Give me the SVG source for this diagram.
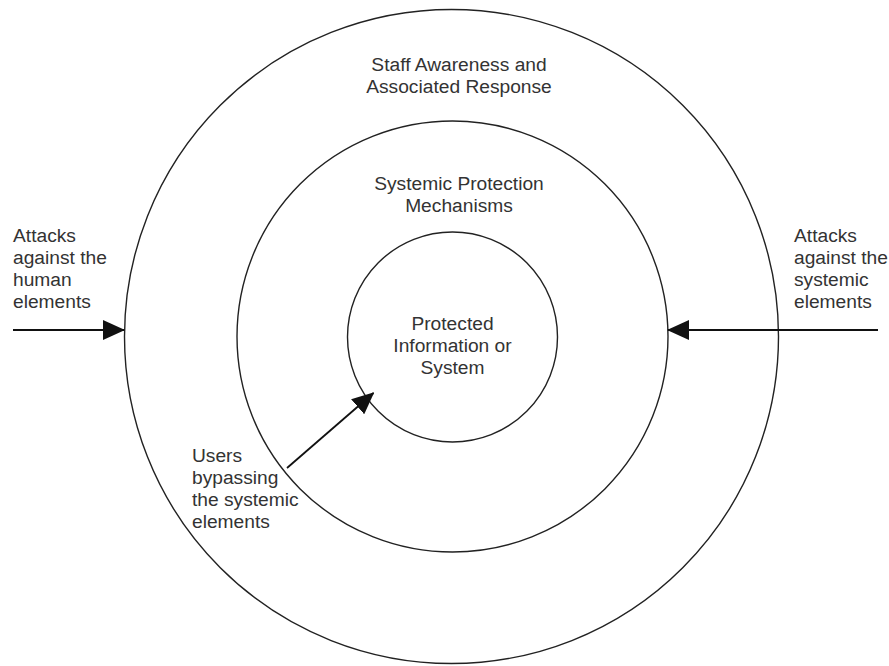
<svg xmlns="http://www.w3.org/2000/svg" width="889" height="666" viewBox="0 0 889 666">
<style>
.ring{fill:none;stroke:#222;stroke-width:1.4}
.lbl{font-family:"Liberation Sans",Arial,sans-serif;font-size:19.2px;fill:#333}
.c{text-anchor:middle}
.arr{fill:none;stroke:#111;stroke-width:1.8}
</style>
<defs>
<marker id="ah" viewBox="0 0 22 20" refX="21" refY="10" markerWidth="22" markerHeight="20" markerUnits="userSpaceOnUse" orient="auto">
<path d="M0,0 L22,10 L0,20 Z" fill="#111"/>
</marker>
</defs>
<rect width="889" height="666" fill="#fff"/>
<g id="outer">
<circle class="ring" cx="451.5" cy="336.5" r="327"/>
<text class="lbl c" x="459" y="71">Staff Awareness and</text>
<text class="lbl c" x="459" y="93">Associated Response</text>
</g>
<g id="middle">
<circle class="ring" cx="452.5" cy="336.5" r="215.5"/>
<text class="lbl c" x="459" y="190">Systemic Protection</text>
<text class="lbl c" x="459" y="212">Mechanisms</text>
</g>
<g id="inner">
<circle class="ring" cx="452.5" cy="337" r="105"/>
<text class="lbl c" x="452.5" y="330">Protected</text>
<text class="lbl c" x="452.5" y="352">Information or</text>
<text class="lbl c" x="452.5" y="374">System</text>
</g>
<g id="label-human">
<text class="lbl" x="13" y="242">Attacks</text>
<text class="lbl" x="13" y="264">against the</text>
<text class="lbl" x="13" y="286">human</text>
<text class="lbl" x="13" y="308">elements</text>
</g>
<g id="label-systemic">
<text class="lbl" x="794" y="242">Attacks</text>
<text class="lbl" x="794" y="264">against the</text>
<text class="lbl" x="794" y="286">systemic</text>
<text class="lbl" x="794" y="308">elements</text>
</g>
<g id="label-users">
<text class="lbl" x="192" y="462">Users</text>
<text class="lbl" x="192" y="484">bypassing</text>
<text class="lbl" x="192" y="506">the systemic</text>
<text class="lbl" x="192" y="528">elements</text>
</g>
<g id="connectors">
<line class="arr" x1="13" y1="330" x2="124" y2="330" marker-end="url(#ah)"/>
<line class="arr" x1="878" y1="330" x2="668" y2="330" marker-end="url(#ah)"/>
<line class="arr" x1="287" y1="468" x2="373.5" y2="393" marker-end="url(#ah)"/>
</g>
</svg>
